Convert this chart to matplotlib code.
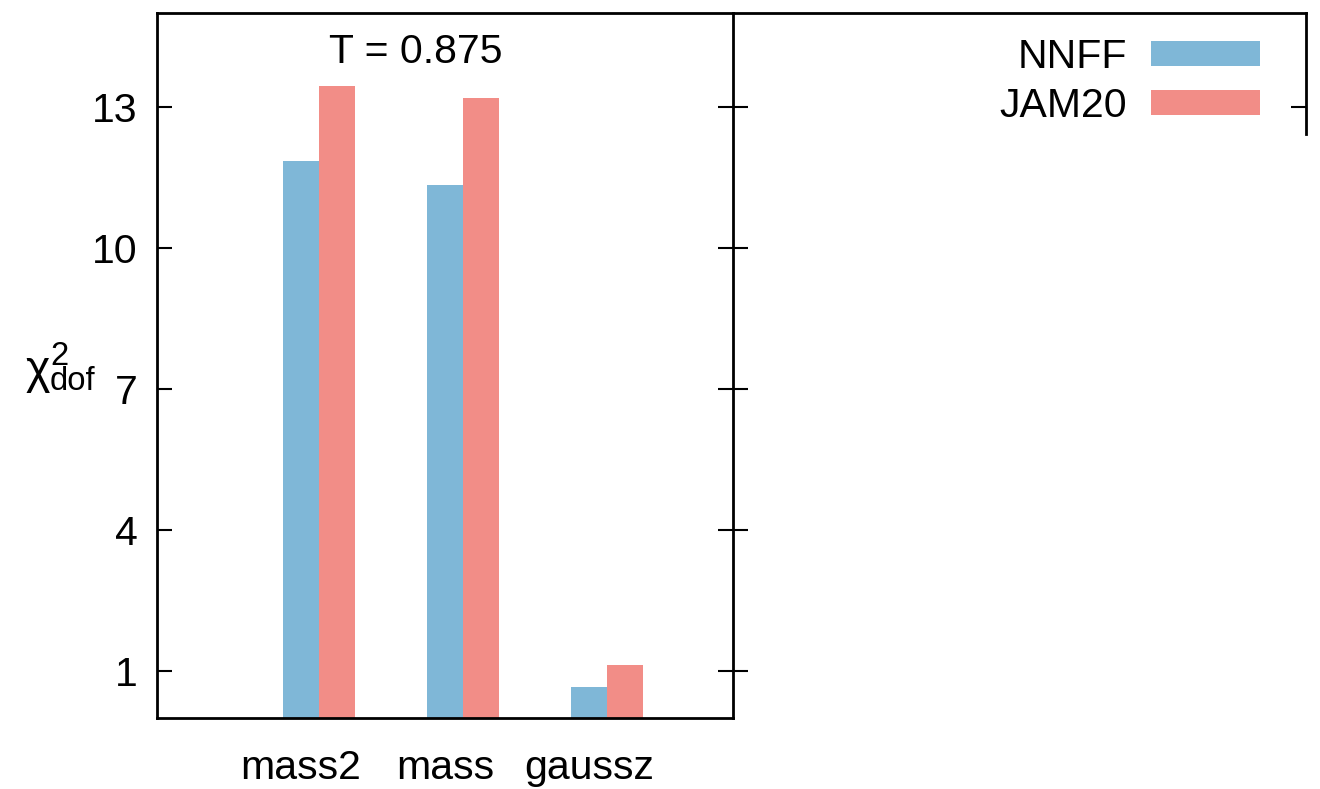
import matplotlib
matplotlib.use("Agg")
import matplotlib.pyplot as plt
import numpy as np
from matplotlib.patches import Patch

categories = ['mass2', 'mass', 'gaussz']
nnff = [11.85, 11.34, 0.66]
jam20 = [13.45, 13.19, 1.13]
yticks = [1, 4, 7, 10, 13]
series_names = ['NNFF', 'JAM20']
colors = ['#7fb7d7', '#f28d87']
title_text = 'T = 0.875'

plt.rcParams['font.family'] = ['Liberation Sans', 'DejaVu Sans']
FS = 29.5
SUB = FS * 0.8

W, H = 1320, 789
fig = plt.figure(figsize=(W / 100, H / 100), dpi=100)

def frac(x0, y0, x1, y1):
    return [x0 / W, 1 - y1 / H, (x1 - x0) / W, (y1 - y0) / H]

ax = fig.add_axes(frac(157, 13, 733, 718))
x = np.arange(len(categories))
w = 0.25
ax.bar(x - w / 2, nnff, width=w, color=colors[0], linewidth=0)
ax.bar(x + w / 2, jam20, width=w, color=colors[1], linewidth=0)
ax.set_xlim(-1.125, 2.875)
ax.set_ylim(0, 15)
ax.set_yticks(yticks)
ax.set_yticklabels([str(t) for t in yticks], fontsize=FS)
ax.set_xticks(x - w / 2)
ax.set_xticklabels(categories, fontsize=FS)
ax.tick_params(axis='x', length=0, pad=22)
ax.tick_params(axis='y', direction='in', length=11, width=1.5, pad=14, right=False)
for s in ax.spines.values():
    s.set_linewidth(2)
ax.spines['right'].set_visible(False)

axr = ax.twinx()
axr.set_ylim(0, 15)
axr.set_yticks(yticks)
axr.set_yticklabels([])
axr.tick_params(axis='y', direction='inout', length=21, width=1.5)
for k in ['top', 'bottom', 'left']:
    axr.spines[k].set_visible(False)
axr.spines['right'].set_linewidth(2)

ax.text(0.45, 0.945, title_text, transform=ax.transAxes, ha='center', va='center', fontsize=FS)

# y label: chi^2_dof built from pieces (gnuplot-style enhanced text)
fig.text(26 / W, 1 - 383 / H, 'χ', fontsize=33.5, ha='left', va='baseline')
fig.text(50 / W, 1 - 369 / H, '2\ndof', fontsize=SUB, ha='left', va='center',
         multialignment='left', linespacing=0.78)

# right panel
ax2 = fig.add_axes(frac(733, 13, 1306, 718))
ax2.set_xlim(0, 1)
ax2.set_ylim(0, 15)
ax2.set_xticks([])
ax2.set_yticks([13])
ax2.yaxis.tick_right()
ax2.set_yticklabels([])
ax2.tick_params(axis='y', direction='in', length=11, width=1.5)
for k in ['bottom', 'left']:
    ax2.spines[k].set_visible(False)
ax2.spines['top'].set_linewidth(2)
ax2.spines['right'].set_linewidth(2)
ax2.spines['right'].set_bounds(12.43, 15)
ax2.patch.set_alpha(0)

handles = [Patch(facecolor=c, edgecolor='none') for c in colors]
ax2.legend(handles, series_names, loc='upper right', bbox_to_anchor=((1260 - 733) / 573, (718 - 38) / 705),
           bbox_transform=ax2.transAxes, markerfirst=False, frameon=False, fontsize=FS,
           handlelength=2.66, handleheight=0.55, handletextpad=0.58, labelspacing=0.27,
           borderaxespad=0, borderpad=0)

fig.savefig('out.png', dpi=100)
